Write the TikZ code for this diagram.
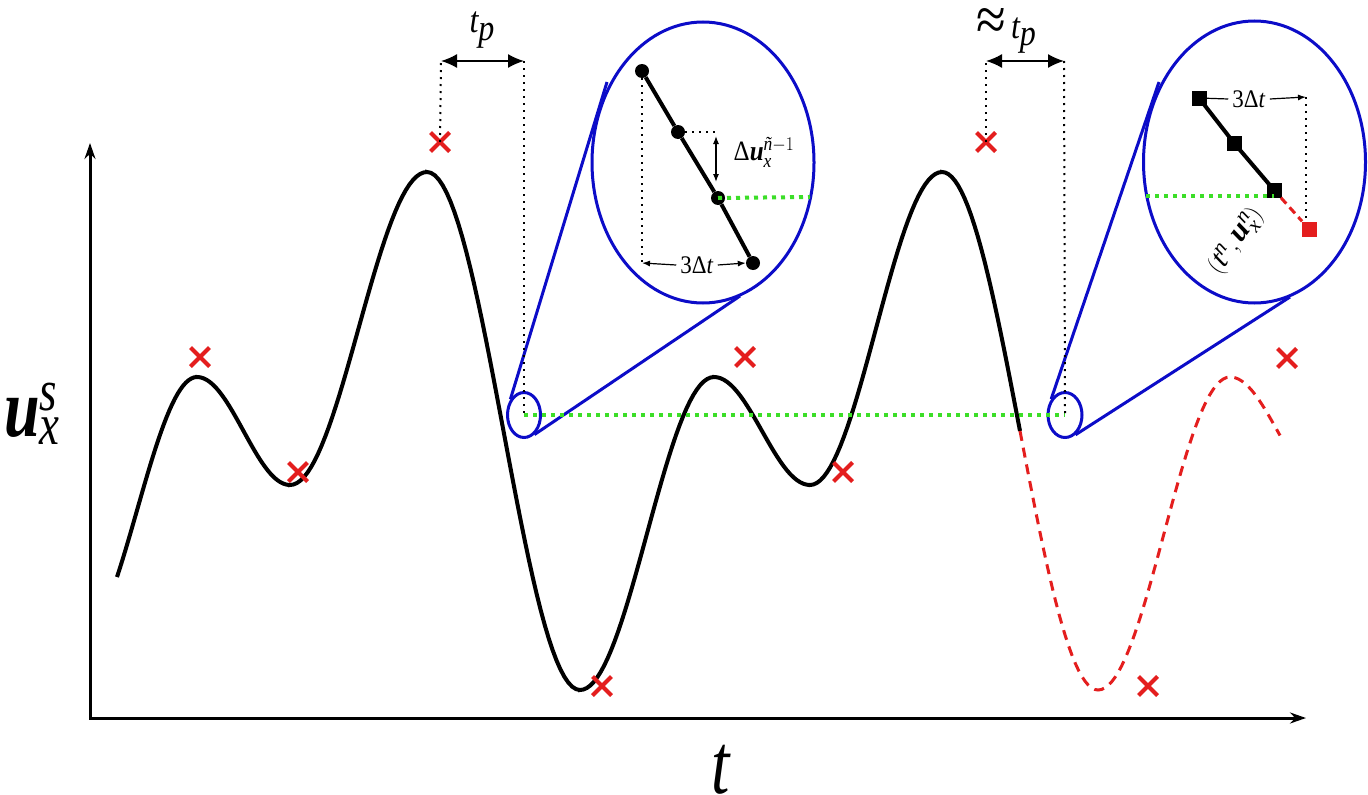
\documentclass[tikz,border=0pt]{standalone}
\usepackage{amsmath}
\usepackage{fontspec}
\setmainfont{Liberation Serif}
\usetikzlibrary{arrows.meta,shapes.geometric,shapes.misc}
\definecolor{cblue}{RGB}{12,12,200}
\definecolor{cred}{RGB}{228,30,30}
\definecolor{cgreen}{RGB}{60,222,40}
\begin{document}
\begin{tikzpicture}[x=1pt,y=-1pt,
  axis/.style={line width=3pt,{Stealth[length=16pt,width=11pt]}-{Stealth[length=16pt,width=11pt]}},
  curve/.style={line width=4pt,black},
  rdash/.style={line width=3pt,cred,dash pattern=on 10pt off 7pt},
  lens/.style={draw=cblue,line width=3pt,ellipse,inner sep=0pt},
  lensline/.style={draw=cblue,line width=3pt},
  xm/.style={cross out,draw=cred,line width=4pt,minimum size=15pt,inner sep=0pt},
  dots/.style={line width=2pt,dash pattern=on 2pt off 5pt},
  gdots/.style={line width=4pt,cgreen,dash pattern=on 4pt off 5pt},
  bigarr/.style={line width=1.6pt,{Latex[length=16pt,width=14pt]}-{Latex[length=16pt,width=14pt]}},
  smallarr/.style={line width=1.2pt,-{Latex[length=8pt,width=6pt]}},
  dblarr/.style={line width=1.2pt,{Latex[length=8pt,width=6pt]}-{Latex[length=8pt,width=6pt]}},
  seg/.style={line width=4pt,black},
  dotn/.style={circle,fill=black,minimum size=14pt,inner sep=0pt},
  sqn/.style={rectangle,fill=black,minimum size=15pt,inner sep=0pt},
  lbl/.style={inner sep=0pt}
]
\useasboundingbox[fill=white] (0,0) rectangle (1368,795);
% axes
\coordinate (O) at (90,718);
\coordinate (Y) at (90,143);
\coordinate (X) at (1306,718);
\draw[axis] (Y) -- (O) -- (X);
\node[lbl] (tl) at (721,770) {\scalebox{1}[1.3]{\fontsize{66}{70}\selectfont\itshape t}};
\node[lbl] (ul) at (32,414) {\scalebox{1}[1.3]{\fontsize{64}{70}\selectfont $\text{\bfseries\itshape u}^{\text{\itshape s}}_{\text{\itshape x}}$}};
% curve
\draw[curve] plot[domain=117:197,samples=30] (\x,{643.7+(377-643.7)*(1-cos((\x-77)/120*180))/2})
 -- plot[domain=197:290,samples=30] (\x,{377+(485-377)*(1-cos((\x-197)/93*180))/2})
 -- plot[domain=290:427,samples=40] (\x,{485+(172-485)*(1-cos((\x-290)/137*180))/2})
 -- plot[domain=427:580,samples=40] (\x,{172+(690-172)*(1-cos((\x-427)/153*180))/2})
 -- plot[domain=580:714,samples=40] (\x,{690+(377-690)*(1-cos((\x-580)/134*180))/2})
 -- plot[domain=714:810,samples=30] (\x,{377+(485-377)*(1-cos((\x-714)/96*180))/2})
 -- plot[domain=810:942,samples=40] (\x,{485+(172-485)*(1-cos((\x-810)/132*180))/2})
 -- plot[domain=942:1020,samples=25] (\x,{172+(690-172)*(1-cos((\x-942)/156*180))/2});
\draw[rdash] plot[domain=1020:1098,samples=25] (\x,{172+(690-172)*(1-cos((\x-942)/156*180))/2})
 -- plot[domain=1098:1230,samples=40] (\x,{690+(377-690)*(1-cos((\x-1098)/132*180))/2})
 -- plot[domain=1230:1280,samples=20] (\x,{377+(485-377)*(1-cos((\x-1230)/95*180))/2});
% crosses
\node[xm] (m1) at (200,357) {};
\node[xm] (m2) at (298,472) {};
\node[xm] (m3) at (440,142) {};
\node[xm] (m4) at (602,686) {};
\node[xm] (m5) at (745,357) {};
\node[xm] (m6) at (843,472) {};
\node[xm] (m7) at (986,142) {};
\node[xm] (m8) at (1148,686) {};
\node[xm] (m9) at (1287,358) {};
% lenses
\node[lens,minimum width=33pt,minimum height=45pt] (sl) at (524,415) {};
\node[lens,minimum width=222pt,minimum height=281pt] (bl) at (703,162.5) {};
\node[lens,minimum width=34pt,minimum height=45pt] (sr) at (1065,415) {};
\node[lens,minimum width=222pt,minimum height=282pt] (br) at (1254.5,162) {};
\coordinate (bl1) at (607,82);
\coordinate (bl2) at (740,296);
\coordinate (br1) at (1159,82);
\coordinate (br2) at (1290,297);
\draw[lensline] (sl.131) -- (bl1);
\draw[lensline] (sl.-62) -- (bl2);
\draw[lensline] (sr.131) -- (br1);
\draw[lensline] (sr.-62) -- (br2);
% green level line
\draw[gdots] (sl.center) -- (sr.center);
% t_p annotations
\coordinate (ta) at (441,61);
\coordinate (tb) at (524,61);
\draw[dots] (m3.center) -- (ta);
\draw[dots] (tb) -- (sl.center);
\draw[bigarr] (ta) -- (tb);
\node[lbl] (tp1) at (482,30) {\scalebox{1}[1.15]{\fontsize{32}{36}\selectfont\itshape t\raisebox{-6.5pt}{p}}};
\coordinate (tc) at (986,61);
\coordinate (td) at (1064,61);
\draw[dots] (m7.center) -- (tc);
\draw[dots] (td) -- (sr.center);
\draw[bigarr] (tc) -- (td);
\node[lbl] (tp2) at (1006,31) {\scalebox{1}[1.15]{\fontsize{32}{36}\selectfont{\fontsize{54}{58}\selectfont\raisebox{-2pt}{≈}}\,\itshape t\raisebox{-6.5pt}{p}}};
% left inset
\node[dotn] (a1) at (642,71) {};
\node[dotn] (a2) at (678,132) {};
\node[dotn] (a3) at (718,198) {};
\node[dotn] (a4) at (753,263) {};
\draw[seg] (a1) -- (a2) -- (a3) -- (a4);
\coordinate (b1) at (642,263);
\coordinate (b2) at (716,132);
\coordinate (b3) at (716,136);
\coordinate (b4) at (716,182);
\draw[dots] (a1.center) -- (b1);
\draw[dots] (a2.center) -- (b2);
\draw[dblarr] (b3) -- (b4);
\node[lbl] (lab1) at (764,152) {\scalebox{1}[1.12]{\fontsize{25}{28}\selectfont Δ$\text{\bfseries\itshape u}_{\text{\itshape x}}^{\text{\itshape ñ}-1}$}};
\node[lbl] (lab2) at (697,265) {\scalebox{1}[1.1]{\fontsize{23}{26}\selectfont 3Δ\textit{t}}};
\draw[smallarr] ([xshift=-4pt]lab2.west) -- (b1);
\draw[smallarr] ([xshift=4pt]lab2.east) -- (a4.west);
\coordinate (g1) at (810,197);
\draw[gdots] (a3.center) -- (g1);
% right inset
\node[sqn] (s1) at (1199,98) {};
\node[sqn] (s2) at (1234,143) {};
\node[sqn] (s3) at (1274,190) {};
\node[sqn,fill=cred] (s4) at (1309,229) {};
\draw[seg] (s1.center) -- (s2.center) -- (s3.center);
\draw[line width=3pt,cred,dash pattern=on 8pt off 5pt] (s3) -- (s4);
\node[lbl] (lab3) at (1249,99) {\scalebox{1}[1.1]{\fontsize{23}{26}\selectfont 3Δ\textit{t}}};
\coordinate (r1) at (1306,97);
\coordinate (r2) at (1306,220);
\draw[line width=1.2pt] (s1) -- ([xshift=-4pt]lab3.west);
\draw[smallarr] ([xshift=4pt]lab3.east) -- (r1);
\draw[dots] (r1) -- (r2);
\coordinate (g2) at (1146,196);
\draw[gdots] (g2) -- (g2 -| s3.center);
\node[lbl,rotate=54] (lab4) at (1236,241) {\fontsize{30}{34}\selectfont $\left(\text{\itshape t}^{\text{\itshape n}},\text{\bfseries\itshape u}_{\text{\itshape x}}^{\text{\itshape n}}\right)$};
\end{tikzpicture}
\end{document}
